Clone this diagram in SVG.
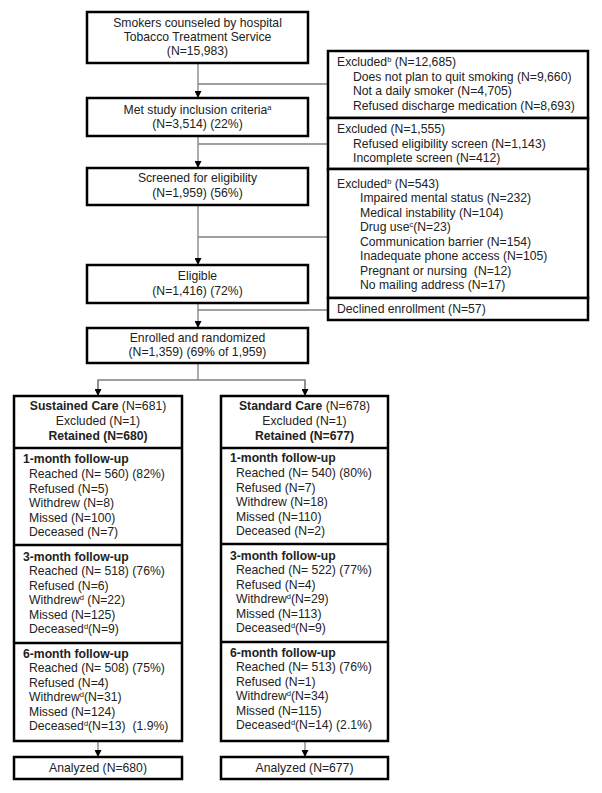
<svg xmlns="http://www.w3.org/2000/svg" width="602" height="793" viewBox="0 0 602 793">
<defs>
<marker id="ah" markerUnits="userSpaceOnUse" markerWidth="7" markerHeight="7" refX="7" refY="3.5" orient="auto">
<path d="M0,0 L7,3.5 L0,7 z" fill="#000"/>
</marker>
<style>
.box{fill:#fff;stroke:#000;stroke-width:2.5}
.div{stroke:#000;stroke-width:2.5}
.con{fill:none;stroke:#808080;stroke-width:1.3}
.arr{fill:none;stroke:#808080;stroke-width:1.3;marker-end:url(#ah)}
text{font-family:"Liberation Sans",Arial,sans-serif;font-size:12.2px;fill:#222}
.c{text-anchor:middle}
.b{font-weight:bold}
.pre{white-space:pre}
.sup{font-size:7.5px;baseline-shift:super}
</style>
</defs>
<rect width="602" height="793" fill="#fff"/>

<g id="connectors">
<line class="arr" x1="198" y1="63" x2="198" y2="98"/>
<line class="con" x1="198" y1="84" x2="328" y2="84"/>
<line class="arr" x1="198" y1="136" x2="198" y2="168"/>
<line class="con" x1="198" y1="144" x2="328" y2="144"/>
<line class="arr" x1="198" y1="205" x2="198" y2="265"/>
<line class="con" x1="198" y1="237" x2="328" y2="237"/>
<line class="arr" x1="198" y1="303" x2="198" y2="328"/>
<line class="con" x1="198" y1="310" x2="328" y2="310"/>
<polyline class="con" points="198,363 198,380"/>
<polyline class="arr" points="98,396 98,380 305,380 305,396" style="marker-end:none"/>
<line class="arr" x1="98" y1="380" x2="98" y2="396"/>
<line class="arr" x1="305" y1="380" x2="305" y2="396"/>
<line class="arr" x1="98" y1="741" x2="98" y2="757"/>
<line class="arr" x1="305" y1="741" x2="305" y2="757"/>
</g>

<g id="counseled">
<rect class="box" x="87" y="12" width="221" height="51"/>
<text class="c" x="197.5" y="27">Smokers counseled by hospital</text>
<text class="c" x="197.5" y="41">Tobacco Treatment Service</text>
<text class="c" x="197.5" y="55">(N=15,983)</text>
</g>

<g id="inclusion">
<rect class="box" x="87" y="98" width="221" height="38"/>
<text class="c" x="197.5" y="113.5">Met study inclusion criteria<tspan class="sup">a</tspan></text>
<text class="c" x="197.5" y="128">(N=3,514) (22%)</text>
</g>

<g id="screened">
<rect class="box" x="87" y="168" width="221" height="37"/>
<text class="c" x="197.5" y="182">Screened for eligibility</text>
<text class="c" x="197.5" y="196.5">(N=1,959) (56%)</text>
</g>

<g id="eligible">
<rect class="box" x="87" y="265" width="221" height="38"/>
<text class="c" x="197.5" y="280">Eligible</text>
<text class="c" x="197.5" y="294.5">(N=1,416) (72%)</text>
</g>

<g id="enrolled">
<rect class="box" x="87" y="328" width="221" height="35"/>
<text class="c" x="197.5" y="341.5">Enrolled and randomized</text>
<text class="c" x="197.5" y="356">(N=1,359) (69% of 1,959)</text>
</g>

<g id="excluded1">
<rect class="box" x="328" y="51" width="260" height="67"/>
<text x="337" y="66">Excluded<tspan class="sup">b</tspan> (N=12,685)</text>
<text x="353" y="80.5">Does not plan to quit smoking (N=9,660)</text>
<text x="353" y="95">Not a daily smoker (N=4,705)</text>
<text x="353" y="109.5">Refused discharge medication (N=8,693)</text>
</g>

<g id="excluded2">
<rect class="box" x="328" y="118" width="260" height="51"/>
<text x="337" y="133">Excluded (N=1,555)</text>
<text x="353" y="147.5">Refused eligibility screen (N=1,143)</text>
<text x="353" y="162">Incomplete screen (N=412)</text>
</g>

<g id="excluded3">
<rect class="box" x="328" y="169" width="260" height="129"/>
<text x="337" y="187.5">Excluded<tspan class="sup">b</tspan> (N=543)</text>
<text x="360" y="202">Impaired mental status (N=232)</text>
<text x="360" y="216.5">Medical instability (N=104)</text>
<text x="360" y="231">Drug use<tspan class="sup">c</tspan>(N=23)</text>
<text x="360" y="245.5">Communication barrier (N=154)</text>
<text x="360" y="260">Inadequate phone access (N=105)</text>
<text class="pre" x="360" y="274.5">Pregnant or nursing  (N=12)</text>
<text x="360" y="289">No mailing address (N=17)</text>
</g>

<g id="declined">
<rect class="box" x="328" y="298" width="260" height="22"/>
<text x="337" y="313">Declined enrollment (N=57)</text>
</g>

<g id="sustained">
<rect class="box" x="14" y="396" width="168" height="345"/>
<line class="div" x1="14" y1="448" x2="182" y2="448"/>
<line class="div" x1="14" y1="545" x2="182" y2="545"/>
<line class="div" x1="14" y1="643" x2="182" y2="643"/>
<text class="c" x="98" y="410"><tspan class="b">Sustained Care</tspan> (N=681)</text>
<text class="c" x="98" y="425">Excluded (N=1)</text>
<text class="c b" x="98" y="439.5">Retained (N=680)</text>
<text class="b" x="23" y="463">1-month follow-up</text>
<text x="29" y="478">Reached (N= 560) (82%)</text>
<text x="29" y="492.5">Refused (N=5)</text>
<text x="29" y="507">Withdrew (N=8)</text>
<text x="29" y="521.5">Missed (N=100)</text>
<text x="29" y="536">Deceased (N=7)</text>
<text class="b" x="23" y="560.5">3-month follow-up</text>
<text x="29" y="575">Reached (N= 518) (76%)</text>
<text x="29" y="589.5">Refused (N=6)</text>
<text x="29" y="604">Withdrew<tspan class="sup">d</tspan> (N=22)</text>
<text x="29" y="618.5">Missed (N=125)</text>
<text x="29" y="633">Deceased<tspan class="sup">d</tspan>(N=9)</text>
<text class="b" x="23" y="657.5">6-month follow-up</text>
<text x="29" y="672">Reached (N= 508) (75%)</text>
<text x="29" y="686.5">Refused (N=4)</text>
<text x="29" y="701">Withdrew<tspan class="sup">d</tspan>(N=31)</text>
<text x="29" y="715.5">Missed (N=124)</text>
<text class="pre" x="29" y="730">Deceased<tspan class="sup">d</tspan>(N=13)  (1.9%)</text>
</g>

<g id="standard">
<rect class="box" x="221" y="396" width="167" height="345"/>
<line class="div" x1="221" y1="448" x2="388" y2="448"/>
<line class="div" x1="221" y1="544" x2="388" y2="544"/>
<line class="div" x1="221" y1="642" x2="388" y2="642"/>
<text class="c" x="304.5" y="410"><tspan class="b">Standard Care</tspan> (N=678)</text>
<text class="c" x="304.5" y="425">Excluded (N=1)</text>
<text class="c b" x="304.5" y="439.5">Retained (N=677)</text>
<text class="b" x="230" y="462">1-month follow-up</text>
<text x="236" y="477">Reached (N= 540) (80%)</text>
<text x="236" y="491.5">Refused (N=7)</text>
<text x="236" y="506">Withdrew (N=18)</text>
<text x="236" y="520.5">Missed (N=110)</text>
<text x="236" y="535">Deceased (N=2)</text>
<text class="b" x="230" y="559.5">3-month follow-up</text>
<text x="236" y="574">Reached (N= 522) (77%)</text>
<text x="236" y="588.5">Refused (N=4)</text>
<text x="236" y="603">Withdrew<tspan class="sup">d</tspan>(N=29)</text>
<text x="236" y="617.5">Missed (N=113)</text>
<text x="236" y="632">Deceased<tspan class="sup">d</tspan>(N=9)</text>
<text class="b" x="230" y="656.5">6-month follow-up</text>
<text x="236" y="671">Reached (N= 513) (76%)</text>
<text x="236" y="685.5">Refused (N=1)</text>
<text x="236" y="700">Withdrew<tspan class="sup">d</tspan>(N=34)</text>
<text x="236" y="714.5">Missed (N=115)</text>
<text x="236" y="729">Deceased<tspan class="sup">d</tspan>(N=14) (2.1%)</text>
</g>

<g id="analyzed-sustained">
<rect class="box" x="14" y="757" width="168" height="22"/>
<text class="c" x="98" y="772">Analyzed (N=680)</text>
</g>

<g id="analyzed-standard">
<rect class="box" x="221" y="757" width="167" height="22"/>
<text class="c" x="304.5" y="772">Analyzed (N=677)</text>
</g>
</svg>
